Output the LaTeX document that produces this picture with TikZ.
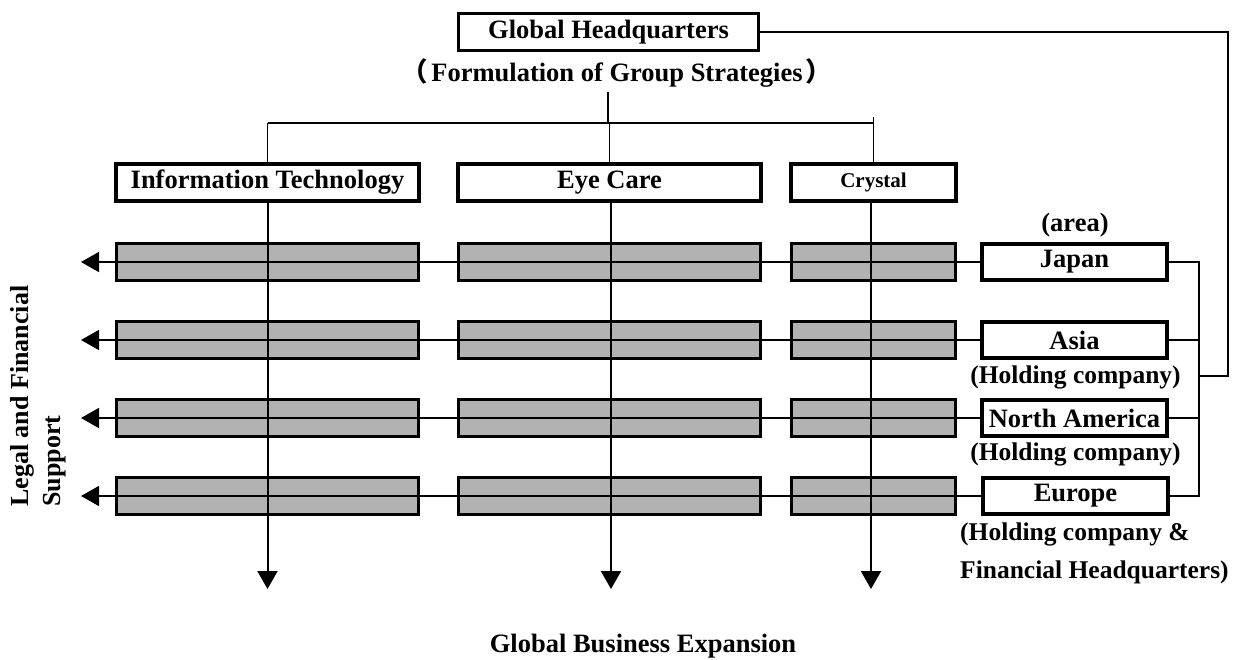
\documentclass[tikz,border=0pt]{standalone}
\usepackage{fontspec}
\setmainfont{Liberation Serif}
\newfontfamily\cjk{Noto Sans CJK JP}
\usetikzlibrary{arrows.meta}
\begin{document}
\begin{tikzpicture}[x=1pt,y=-1pt,
  txt/.style={font=\bfseries\fontsize{26.5}{30}\selectfont, inner sep=0pt},
  box/.style={draw, line width=4pt, fill=white, minimum height=36.5pt, inner sep=0pt,
              font=\bfseries\fontsize{26.5}{30}\selectfont},
  bar/.style={draw, line width=3.2pt, fill=black!30, minimum height=37pt, inner sep=0pt},
  conn/.style={line width=1.5pt},
  arr/.style={conn, -{Triangle[width=20pt,length=18pt]}}
]
\useasboundingbox (0,0) rectangle (1245,659);

% headquarters
\node[box, line width=3pt, minimum width=300pt] (hq) at (608.5,32) {Global Headquarters};
\node[txt] (form) at (617,73) {{\cjk （}\hspace{3pt}Formulation of Group Strategies\hspace{3pt}{\cjk ）}};

% divisions
\node[box, minimum width=303pt] (it) at (267.5,182.5) {Information Technology};
\node[box, minimum width=303pt] (ec) at (609.5,182.5) {Eye Care};
\node[box, minimum width=165pt, font=\bfseries\fontsize{21}{24}\selectfont] (cr) at (873.5,182.5) {Crystal};

% top tree
\coordinate (t0) at (608,92);
\coordinate (split) at (608,123);
\draw[conn] (t0) -- (split);
\draw[conn] (it.north |- split) -- (cr.north |- split);
\draw[conn] (it.north |- split) -- (it.north);
\draw[conn] (ec.north |- split) -- (ec.north);
\draw[conn] (cr.north |- split) -- ++(0,-6) coordinate (crtop);
\draw[conn] (crtop) -- (cr.north);

% bars
\foreach \r/\y in {1/262,2/340,3/418,4/496}{
  \node[bar, minimum width=302pt] (b\r it) at (267.5,\y) {};
  \node[bar, minimum width=302pt] (b\r ec) at (609.5,\y) {};
  \node[bar, minimum width=164pt] (b\r cr) at (873.5,\y) {};
  \coordinate (la\r) at (81,\y);
}

% area boxes
\node[box, minimum width=185pt] (japan) at (1074.5,262) {Japan};
\node[box, minimum width=185pt] (asia) at (1074.5,340) {Asia};
\node[box, minimum width=185pt] (na) at (1074.5,418) {North America};
\node[box, minimum width=185pt] (europe) at (1075.5,496) {Europe};

\node[txt] (area) at (1075,225) {(area)};
\node[txt, font=\bfseries\fontsize{25.5}{30}\selectfont] (hold1) at (1075.5,377) {(Holding company)};
\node[txt, font=\bfseries\fontsize{25.5}{30}\selectfont] (hold2) at (1075.5,454) {(Holding company)};
\node[txt, align=left, anchor=west, font=\bfseries\fontsize{25.5}{38}\selectfont] (hold3) at (960,553)
  {(Holding company \&\\Financial Headquarters)};

% horizontal support lines
\draw[arr] (japan.west) -- (la1);
\draw[arr] (asia.west) -- (la2);
\draw[arr] (na.west) -- (la3);
\draw[arr] (europe.west) -- (la4);

% vertical business lines
\coordinate (d1) at (267.5,589);
\coordinate (d2) at (611,589);
\coordinate (d3) at (871,589);
\draw[arr, line width=2pt] (it.south) -- (d1);
\draw[arr, line width=2pt] (ec.south -| d2) -- (d2);
\draw[arr, line width=2pt] (cr.south -| d3) -- (d3);

% right brackets
\coordinate (jx) at (1199,262);
\coordinate (ex) at (1199,496);
\coordinate (bkt) at (1199,376);
\coordinate (rx) at (1228,376);
\draw[conn] (japan.east) -- (jx) -- (ex) -- (europe.east);
\draw[conn] (asia.east) -- (asia.east -| jx);
\draw[conn] (na.east) -- (na.east -| jx);
\draw[conn] (hq.east) -- (hq.east -| rx) -- (rx) -- (bkt);

% side and bottom labels
\node[txt, rotate=90, align=left, anchor=west, font=\bfseries\fontsize{26}{32}\selectfont] (legal) at (38,507)
  {Legal and Financial\\Support};
\node[txt, anchor=base] (gbe) at (643,652) {Global Business Expansion};
\end{tikzpicture}
\end{document}
